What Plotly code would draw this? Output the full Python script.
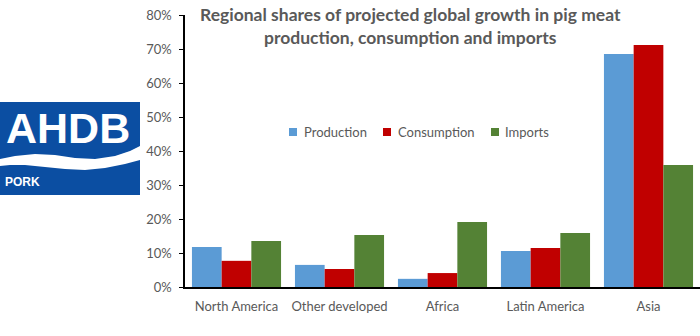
import plotly.graph_objects as go

regions = ["North America", "Other developed", "Africa", "Latin America", "Asia"]
production = [0.118, 0.065, 0.024, 0.106, 0.685]
consumption = [0.077, 0.053, 0.041, 0.115, 0.712]
imports = [0.135, 0.153, 0.191, 0.159, 0.359]
tick_vals = [0, 0.1, 0.2, 0.3, 0.4, 0.5, 0.6, 0.7, 0.8]
tick_text = ["0%", "10%", "20%", "30%", "40%", "50%", "60%", "70%", "80%"]
series_names = ["Production", "Consumption", "Imports"]
series_colors = ["#5B9BD5", "#C00000", "#548235"]

GRAY = "#595959"
FONT = "Lato"

fig = go.Figure()
for name, vals, col in zip(series_names, [production, consumption, imports], series_colors):
    fig.add_trace(go.Bar(name=name, x=regions, y=vals, marker_color=col, marker_line_width=0))

fig.update_layout(
    width=700, height=336,
    margin=dict(l=185, r=0, t=15, b=49),
    paper_bgcolor="white", plot_bgcolor="white",
    barmode="group", bargap=0.135, bargroupgap=0,
    font=dict(family=FONT, size=13, color=GRAY),
    showlegend=False,
    xaxis=dict(showline=True, linecolor="black", linewidth=1.5, ticks="",
               tickfont=dict(family=FONT, size=13, color=GRAY), showgrid=False,
               ticklabelstandoff=7),
    yaxis=dict(range=[0, 0.8], tickvals=tick_vals, ticktext=tick_text, showline=True,
               linecolor="black", linewidth=1.5, ticks="outside", ticklen=4, tickcolor="black",
               showgrid=False, zeroline=False, ticklabelstandoff=5,
               tickfont=dict(family=FONT, size=13, color=GRAY)),
)

def px(x):
    return (x - 185) / 515

def py(y):
    return (287 - y) / 272

fig.add_annotation(
    text="<b>Regional shares of projected global growth in pig meat<br>production, consumption and imports</b>",
    xref="paper", yref="paper", x=px(410), y=1.0, xanchor="center", yanchor="top",
    yshift=13, showarrow=False, align="center",
    font=dict(family=FONT, size=17.5, color=GRAY),
)

# manual legend
legend_marker_x = [289, 383, 491]
legend_text_x = [302, 396, 503]
for name, col, mx, tx in zip(series_names, series_colors, legend_marker_x, legend_text_x):
    fig.add_shape(type="rect", xref="paper", yref="paper", x0=px(mx), x1=px(mx + 8),
                  y0=py(136), y1=py(128), fillcolor=col, line_width=0)
    fig.add_annotation(text=name, xref="paper", yref="paper", x=px(tx), y=py(132),
                       xanchor="left", yanchor="middle", showarrow=False,
                       font=dict(family=FONT, size=13, color=GRAY))

# AHDB logo
BLUE = "#0B4EA2"
fig.add_shape(type="rect", xref="paper", yref="paper", x0=px(0), x1=px(140), y0=py(195), y1=py(102),
              fillcolor=BLUE, line_width=0, layer="above")
upper = [(0, 159), (15, 156), (35, 154), (55, 155), (75, 158), (95, 159), (115, 156), (130, 151), (140, 146)]
lower = [(140, 160), (125, 164), (105, 168), (85, 170), (65, 169), (45, 167), (25, 165), (10, 165), (0, 166)]
path = "M " + " L ".join(f"{px(x)},{py(y)}" for x, y in upper + lower) + " Z"
fig.add_shape(type="path", xref="paper", yref="paper", path=path,
              fillcolor="white", line_width=0, layer="above")
fig.add_annotation(text="<b>AHDB</b>", xref="paper", yref="paper", x=px(68), y=py(128),
                   xanchor="center", yanchor="middle", showarrow=False,
                   font=dict(family="Liberation Sans", size=43, color="white"))
fig.add_annotation(text="<b>PORK</b>", xref="paper", yref="paper", x=px(3), y=py(182),
                   xanchor="left", yanchor="middle", showarrow=False,
                   font=dict(family="Liberation Sans", size=12, color="white"))

fig.write_html("out.html")
